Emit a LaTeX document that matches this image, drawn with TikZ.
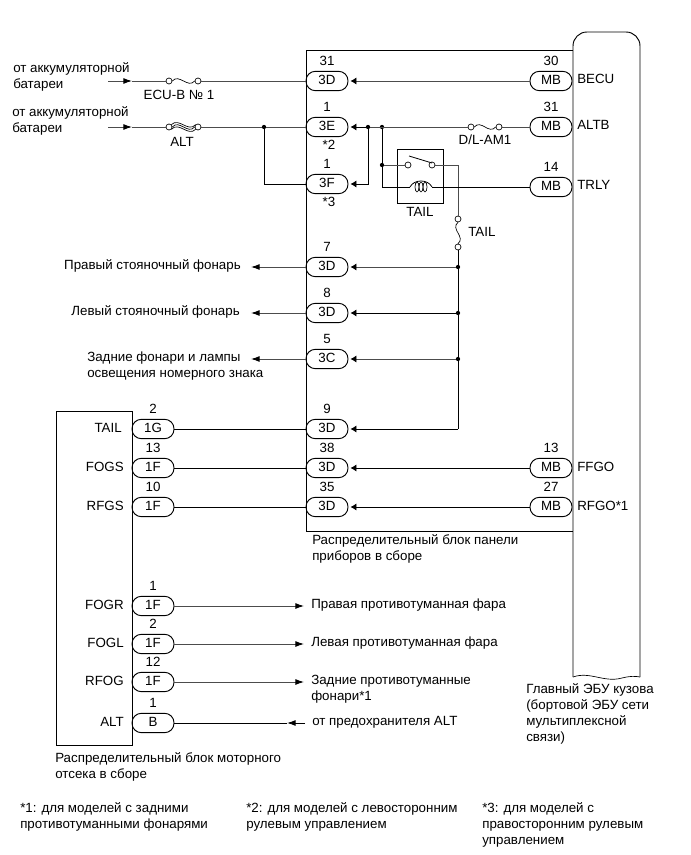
\documentclass[tikz,border=0pt]{standalone}
\usepackage{fontspec}
\setmainfont{Liberation Sans}
\usetikzlibrary{arrows.meta,positioning}
\tikzset{
    wire/.style={line width=0.7pt,black!70},
    wiredark/.style={line width=0.7pt,black},
    pin/.style={draw,line width=0.7pt,rounded corners=7pt,minimum width=31.5pt,minimum height=14.5pt,inner sep=0pt,text height=7.2pt,text depth=2pt,font=\fontsize{10}{10}\selectfont},
    pinnum/.style={font=\fontsize{10}{10}\selectfont,inner sep=0pt,above=4pt},
    lbl/.style={font=\fontsize{10}{12}\selectfont,inner sep=0pt,align=left},
    dot/.style={fill,circle,inner sep=0pt,minimum size=3.2pt},
    term/.style={draw,circle,inner sep=0pt,minimum size=4.5pt,line width=0.5pt,fill=white},
    socket/.style={-{Latex[length=4.5pt,width=5.5pt,black]},shorten >=1.5pt},
    tip/.style={-{Latex[length=6.5pt,width=4.5pt,black]}}
}
\begin{document}
\begin{tikzpicture}[x=0.75pt,y=-0.75pt]
    \useasboundingbox (0,0) rectangle (691,855);
    % boxes
    \draw[line width=0.7pt] (573,50.5) -- (306,50.5) -- (306,531) -- (573,531);
    \draw[line width=0.7pt] (573,677) -- (573,46) to[out=90,in=180] (587,32) -- (626,32) to[out=0,in=90] (640,46) -- (640,677);
    \draw[line width=0.5pt] (573,677) .. controls (590,671) and (604,683) .. (622,678) .. controls (630,676) and (635,676) .. (640,677);
    \draw[line width=0.7pt] (56,411) rectangle (132,745);
    % pins, main block
    \node[pin] (p1) at (327,81) {3D};
    \node[pin] (p2) at (327,127) {3E};
    \node[pin] (p3) at (327,184) {3F};
    \node[pin] (p4) at (327,267) {3D};
    \node[pin] (p5) at (327,313) {3D};
    \node[pin] (p6) at (327,359) {3C};
    \node[pin] (p7) at (327,429) {3D};
    \node[pin] (p8) at (327,468) {3D};
    \node[pin] (p9) at (327,507) {3D};
    % pins, ecu
    \node[pin] (m1) at (551,81) {MB};
    \node[pin] (m2) at (551,127) {MB};
    \node[pin] (m3) at (551,187) {MB};
    \node[pin] (m4) at (551,468) {MB};
    \node[pin] (m5) at (551,507) {MB};
    % pins, engine block
    \node[pin] (e1) at (153,429) {1G};
    \node[pin] (e2) at (153,468) {1F};
    \node[pin] (e3) at (153,507) {1F};
    \node[pin] (e4) at (153,606) {1F};
    \node[pin] (e5) at (153,644) {1F};
    \node[pin] (e6) at (153,682) {1F};
    \node[pin] (e7) at (153,723) {B};
    % pin numbers
    \foreach \pinname/\pinno in {p1/31,p2/1,p3/1,p4/7,p5/8,p6/5,p7/9,p8/38,p9/35,m1/30,m2/31,m3/14,m4/13,m5/27,e1/2,e2/13,e3/10,e4/1,e5/2,e6/12,e7/1}
        \node[pinnum] at (\pinname.north) {\pinno};
    \node[lbl] (n2) at (329,145) {*2};
    \node[lbl] (n3) at (329,202) {*3};
    % signal names
    \node[lbl,anchor=west] (s1) at (577,79) {BECU};
    \node[lbl,anchor=west] (s2) at (577,125) {ALTB};
    \node[lbl,anchor=west] (s3) at (577,185) {TRLY};
    \node[lbl,anchor=west] (s4) at (577,467) {FFGO};
    \node[lbl,anchor=west] (s5) at (577,506) {RFGO*1};
    \node[lbl,anchor=east] (t1) at (122,428) {TAIL};
    \node[lbl,anchor=east] (t2) at (124,467) {FOGS};
    \node[lbl,anchor=east] (t3) at (124,506) {RFGS};
    \node[lbl,anchor=east] (t4) at (124,605) {FOGR};
    \node[lbl,anchor=east] (t5) at (124,643) {FOGL};
    \node[lbl,anchor=east] (t6) at (124,681) {RFOG};
    \node[lbl,anchor=east] (t7) at (124,722) {ALT};
    % battery feeds
    \node[lbl,anchor=west] (bat1) at (13,77) {от аккумуляторной\\батареи};
    \node[lbl,anchor=west] (bat2) at (12,121) {от аккумуляторной\\батареи};
    \coordinate (b1) at (108,81);
    \coordinate (b2) at (108,127);
    \coordinate (a1) at (132,81);
    \coordinate (a2) at (132,127);
    \node[term] (f1a) at (169,81) {};
    \node[term] (f1b) at (198,81) {};
    \node[term] (f2a) at (169,127) {};
    \node[term] (f2b) at (198,127) {};
    \node[term] (f3a) at (471,127) {};
    \node[term] (f3b) at (499,127) {};
    \node[lbl] (fl1) at (179,95) {ECU-B № 1};
    \node[lbl] (fl2) at (182,142) {ALT};
    \node[lbl] (fl3) at (485,140) {D/L-AM1};
    \draw[wire] (a1) -- (f1a);
    \draw[wire] (a2) -- (f2a);
    \draw[wire,tip] (b1) -- (a1);
    \draw[wire,tip] (b2) -- (a2);
    \draw[line width=0.5pt] (f1a.east) .. controls (179,73) and (188,89) .. (f1b.west);
    \draw[line width=0.5pt] (f3a.east) .. controls (481,119) and (489,135) .. (f3b.west);
    \draw[line width=0.5pt] (f2a.east) .. controls (179,119) and (188,135) .. (f2b.west);
    \draw[line width=0.5pt] (f2a.north east) .. controls (179,117) and (188,133) .. (f2b.north west);
    \draw[line width=0.5pt] (f2a.south east) .. controls (179,121) and (188,137) .. (f2b.south west);
    \draw[wire] (f1b) -- (p1);
    \draw[wire] (f2b) -- (p2);
    \node[dot] (j1) at (264,127) {};
    \draw[wiredark] (j1) |- (p3);
    % main block wiring
    \node[dot] (j2) at (368,127) {};
    \node[dot] (j3) at (382,127) {};
    \node[dot] (j4) at (382,165) {};
    \node[dot] (j5) at (458,267) {};
    \node[dot] (j6) at (458,313) {};
    \node[dot] (j7) at (458,359) {};
    \draw[wire,socket] (m1) -- (p1);
    \draw[wiredark,socket] (j2) -- (p2);
    \draw[wire] (f3a) -- (j2);
    \draw[wire] (f3b) -- (m2);
    \draw[wiredark,socket] (j2) |- (p3);
    \draw[wiredark] (j3) -- (j4);
    % relay
    \node[draw,line width=0.7pt,minimum width=34.5pt,minimum height=40.5pt,inner sep=0pt] (relay) at (420,176) {};
    \node[lbl] (rl) at (420,212) {TAIL};
    \node[term] (sa) at (408,165) {};
    \node[term] (sb) at (432,165) {};
    \coordinate (arm1) at (409,156);
    \coordinate (arm2) at (432,163);
    \coordinate (coil1) at (410,187);
    \coordinate (coil2) at (432,187);
    \draw[wire] (j4) -- (sa);
    \draw[line width=0.6pt] (arm1) -- (arm2);
    \node[term] (fu1) at (458,219) {};
    \node[term] (fu2) at (458,247) {};
    \node[lbl,anchor=west] (fl4) at (468,232) {TAIL};
    \draw[wire] (sb) -| (fu1);
    \draw[line width=0.5pt] (fu1.south) .. controls (450,229) and (466,237) .. (fu2.north);
    \draw[wiredark] (fu2) -- (j5) -- (j6) -- (j7);
    \coordinate (c1) at (458,429);
    \draw[wiredark] (j7) |- (c1);
    \draw[wiredark] (j3) |- (coil1);
    \draw[wiredark] (coil2) -- (m3);
    \draw[line width=0.6pt] (coil1) .. controls (414,179) and (428,179) .. (coil2);
    \draw[line width=0.5pt] (417,187) ellipse [x radius=2,y radius=5];
    \draw[line width=0.5pt] (421,187) ellipse [x radius=2,y radius=5];
    \draw[line width=0.5pt] (425,187) ellipse [x radius=2,y radius=5];
    \draw[wire,socket] (j5) -- (p4);
    \draw[wiredark,socket] (j6) -- (p5);
    \draw[wire,socket] (j7) -- (p6);
    \draw[wiredark,socket] (c1) -- (p7);
    \draw[wiredark,socket] (m4) -- (p8);
    \draw[wiredark,socket] (m5) -- (p9);
    % engine block to main block
    \draw[wiredark] (e1) -- (p7);
    \draw[wiredark] (e2) -- (p8);
    \draw[wiredark] (e3) -- (p9);
    % loads
    \node[lbl,anchor=east] (l1) at (241,266) {Правый стояночный фонарь};
    \node[lbl,anchor=east] (l2) at (240,312) {Левый стояночный фонарь};
    \node[lbl,anchor=west] (l3) at (87,366) {Задние фонари и лампы\\освещения номерного знака};
    \coordinate (q1) at (251,267);
    \coordinate (q2) at (251,313);
    \coordinate (q3) at (251,359);
    \draw[wire,tip] (p4) -- (q1);
    \draw[wire,tip] (p5) -- (q2);
    \draw[wire,tip] (p6) -- (q3);
    \node[lbl,anchor=west] (o1) at (311,605) {Правая противотуманная фара};
    \node[lbl,anchor=west] (o2) at (311,643) {Левая противотуманная фара};
    \node[lbl,anchor=west] (o3) at (311,689) {Задние противотуманные\\фонари*1};
    \node[lbl,anchor=west] (o4) at (312,722) {от предохранителя ALT};
    \coordinate (r1) at (304,606);
    \coordinate (r2) at (304,644);
    \coordinate (r3) at (304,682);
    \draw[wire,tip] (e4) -- (r1);
    \draw[wire,tip] (e5) -- (r2);
    \draw[wire,tip] (e6) -- (r3);
    \coordinate (c2) at (305,723);
    \coordinate (c3) at (287,723);
    \draw[wiredark] (c3) -- (e7);
    \draw[wiredark,tip] (c2) -- (c3);
    % captions
    \node[lbl,anchor=north west] (d1) at (312,534) {Распределительный блок панели\\приборов в сборе};
    \node[lbl,anchor=north west] (d2) at (55,752) {Распределительный блок моторного\\отсека в сборе};
    \node[lbl,anchor=north west] (d3) at (526,683) {Главный ЭБУ кузова\\(бортовой ЭБУ сети\\мультиплексной\\связи)};
    \node[lbl,anchor=north west] (n1a) at (20,802) {*1: для моделей с задними\\противотуманными фонарями};
    \node[lbl,anchor=north west] (n2a) at (246,802) {*2: для моделей с левосторонним\\рулевым управлением};
    \node[lbl,anchor=north west] (n3a) at (482,802) {*3: для моделей с\\правосторонним рулевым\\управлением};
\end{tikzpicture}
\end{document}
